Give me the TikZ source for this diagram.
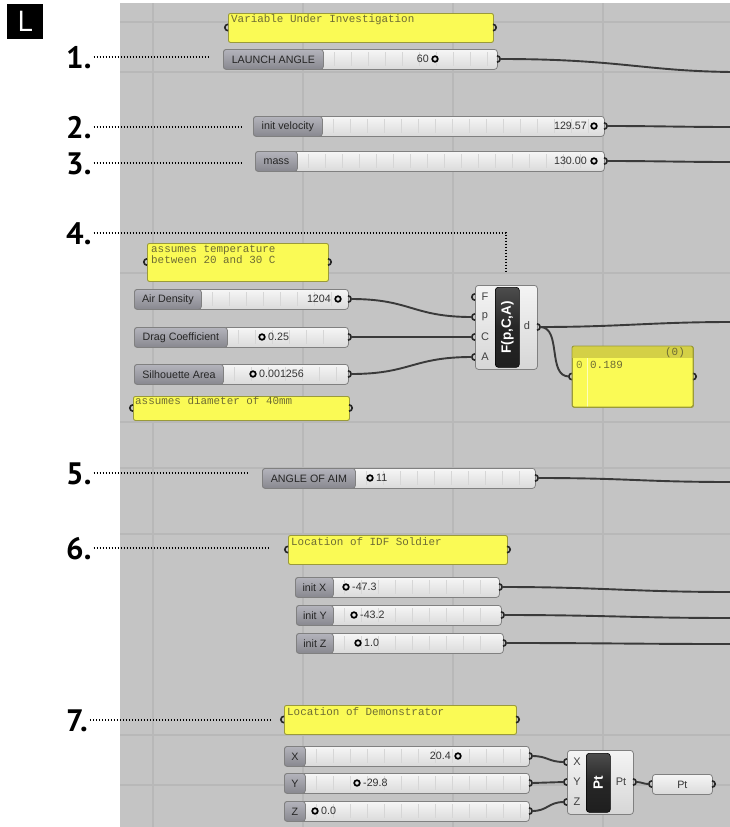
\documentclass[tikz,border=0pt]{standalone}
\usepackage{fontspec}
\setmainfont{Liberation Sans}
\newfontfamily\monof{Liberation Mono}
\newfontfamily\numf{PT Sans}
\newcommand\uifont{\fontsize{10.7}{12}\selectfont}
\definecolor{bgc}{HTML}{C4C4C4}
\definecolor{gridc}{HTML}{B8B8B8}
\definecolor{wirec}{HTML}{3A3A3A}
\definecolor{pany}{HTML}{FAFA55}
\definecolor{panb}{HTML}{9A9A3A}
\definecolor{pant}{HTML}{6E6C34}
\definecolor{hdrc}{HTML}{D4D046}
\definecolor{slbord}{HTML}{808080}
\definecolor{sltop}{HTML}{F6F6F6}
\definecolor{slbot}{HTML}{DADADA}
\definecolor{labtop}{HTML}{B4B4BC}
\definecolor{labbot}{HTML}{88888F}
\definecolor{comptop}{HTML}{F4F4F4}
\definecolor{compbot}{HTML}{D6D6D6}
\newcommand\outport[1]{\draw[port] (#1) ++(0,-3.2) arc[start angle=90,end angle=-90,radius=3.2pt];}
\newcommand\inport[1]{\draw[port] (#1) ++(0,-3.2) arc[start angle=90,end angle=270,radius=3.2pt];}
\newcommand\vring[2]{\draw[ring] (#1,#2) circle[radius=2.8pt];}
% name, x1, y1, x2, y2, label-box right edge, label
\newcommand\gslider[7]{%
  \node[sliderbody, minimum width={#4-#2}, minimum height={#5-#3}] (#1) at (#2,#3) {};
  \foreach \i in {1,...,30}{%
    \pgfmathsetmacro\tx{#6+\i*17-6}%
    \ifdim\tx pt<\dimexpr#4pt-8pt\relax
      \draw[tickl] (\tx,#3+3) -- (\tx,#5-3);
    \fi}
  \node[sliderlab, minimum width={#6-#2}, minimum height={#5-#3}] (#1-lab) at (#2,#3) {#7};
  \coordinate (#1-out) at (#4,{(#3+#5)/2});
  \coordinate (#1-w) at (#4+3,{(#3+#5)/2});
  \outport{#1-out}
}
% name, x1, y1, x2, y2
\newcommand\gpanel[5]{%
  \node[panel, minimum width={#4-#2}, minimum height={#5-#3}] (#1) at (#2,#3) {};
  \coordinate (#1-in) at (#2,{(#3+#5)/2});
  \coordinate (#1-inw) at (#2-3,{(#3+#5)/2});
  \coordinate (#1-out) at (#4,{(#3+#5)/2});
  \inport{#1-in}\outport{#1-out}
}
\begin{document}
\begin{tikzpicture}[x=1pt,y=-1pt,
  wire/.style={draw=wirec, line width=1.9pt},
  port/.style={draw=black!85, line width=1.6pt},
  ring/.style={draw=black, line width=1.7pt},
  sliderbody/.style={draw=slbord, line width=0.8pt, rounded corners=3pt, top color=sltop, bottom color=slbot, inner sep=0pt, anchor=north west},
  sliderlab/.style={draw=slbord, line width=0.8pt, rounded corners=3pt, top color=labtop, bottom color=labbot, inner sep=0pt, anchor=north west, font=\uifont, text=black!85},
  tickl/.style={draw=black!16, line width=0.6pt},
  valtext/.style={font=\uifont, text=black!80, inner sep=0pt},
  panel/.style={draw=panb, line width=0.9pt, fill=pany, rounded corners=2pt, inner sep=0pt, anchor=north west},
  paneltext/.style={font=\monof\fontsize{10.9}{11}\selectfont, text=pant, inner sep=0pt, anchor=base west},
  comp/.style={draw=black!50, line width=0.8pt, rounded corners=3pt, top color=comptop, bottom color=compbot, inner sep=0pt, anchor=north west},
  cbar/.style={draw=black, line width=0.6pt, top color=black!70, bottom color=black!88, middle color=black!85, rounded corners=3pt, inner sep=0pt, anchor=north west},
  complab/.style={font=\fontsize{11}{12}\selectfont, text=black!75, inner sep=0pt},
  bartext/.style={rotate=90, font=\bfseries\fontsize{13.5}{14}\selectfont, text=white, inner sep=0pt},
  numlab/.style={font=\numf\bfseries\fontsize{31}{31}\selectfont, inner sep=0pt, anchor=base west},
  leader/.style={draw=black, line width=1.1pt, dash pattern=on 1.4pt off 1.6pt},
  gridl/.style={draw=gridc, line width=1.3pt}
]
\useasboundingbox (0,0) rectangle (730,827);
\fill[white] (0,0) rectangle (730,827);
\fill[bgc] (120,3) rectangle (730,827);
\foreach \gx in {153,303,453,603} \draw[gridl] (\gx,3) -- (\gx,827);
\foreach \gy in {22,72,273,422,468,534,735,785} \draw[gridl] (120,\gy) -- (730,\gy);

% corner tag
\node[fill=black, minimum width=36, minimum height=35, anchor=north west, inner sep=0pt] (Lbox) at (7,4) {};
\node[text=white, font=\numf\fontsize{29}{29}\selectfont, inner sep=0pt] (Ltxt) at (Lbox.center) {L};

% wire end points at the right edge
\coordinate (e1) at (732,72);
\coordinate (e2) at (732,127);
\coordinate (e3) at (732,162);
\coordinate (e4) at (732,322);
\coordinate (e5) at (732,482);
\coordinate (e6) at (732,592);
\coordinate (e7) at (732,618);
\coordinate (e8) at (732,644);

% ---------- panels ----------
\gpanel{pvar}{228}{13}{493}{42}
\node[paneltext] (tvar) at (231,22) {Variable Under Investigation};
\gpanel{ptemp}{147}{243}{328}{281}
\node[paneltext] (ttemp1) at (151,252) {assumes temperature};
\node[paneltext] (ttemp2) at (151,263) {between 20 and 30 C};
\gpanel{pdiam}{133}{396}{349}{420}
\node[paneltext] (tdiam) at (135,404) {assumes diameter of 40mm};
\gpanel{pidf}{288}{535}{507}{564}
\node[paneltext] (tidf) at (291,545) {Location of IDF Soldier};
\gpanel{pdem}{284}{705}{516}{734}
\node[paneltext] (tdem) at (287,715) {Location of Demonstrator};

% result panel
\gpanel{pres}{572}{346}{693}{407}
\begin{scope}
\clip[rounded corners=2pt] (572,346) rectangle (693,407);
\fill[hdrc] (572,346) rectangle (693,358);
\draw[pany!40!white, line width=0.8pt] (587,358) -- (587,407);
\end{scope}
\draw[panb, line width=0.9pt, rounded corners=2pt] (572,346) rectangle (693,407);
\node[paneltext, anchor=base east] (tres0) at (685,355) {(0)};
\node[paneltext, text=pany!55!black] (tresi) at (576,368) {0};
\node[paneltext] (tresv) at (590,368) {0.189};

% ---------- sliders ----------
\gslider{la}{223}{49}{497}{69}{323}{LAUNCH ANGLE}
\node[valtext, anchor=east] (la-v) at (429,59) {60}; \vring{435}{59}
\gslider{iv}{253}{116}{604}{136}{322}{init velocity}
\node[valtext, anchor=east] (iv-v) at (587,126) {129.57}; \vring{594}{126}
\gslider{ms}{255}{151}{604}{171}{297}{mass}
\node[valtext, anchor=east] (ms-v) at (587,161) {130.00}; \vring{594}{161}
\gslider{ad}{134}{289}{348}{309}{201}{Air Density}
\node[valtext, anchor=east] (ad-v) at (331,299) {1204}; \vring{338}{299}
\gslider{dc}{134}{327}{348}{347}{227}{Drag Coefficient}
\vring{262}{337} \node[valtext, anchor=west] (dc-v) at (268,337) {0.25};
\gslider{sa}{134}{364}{348}{384}{223}{Silhouette Area}
\vring{253}{374} \node[valtext, anchor=west] (sa-v) at (259,374) {0.001256};
\gslider{aim}{262}{468}{535}{488}{355}{ANGLE OF AIM}
\vring{370}{478} \node[valtext, anchor=west] (aim-v) at (376,478) {11};
\gslider{ix}{295}{577}{499}{597}{333}{init X}
\vring{346}{587} \node[valtext, anchor=west] (ix-v) at (352,587) {-47.3};
\gslider{iy}{296}{605}{501}{625}{333}{init Y}
\vring{354}{615} \node[valtext, anchor=west] (iy-v) at (360,615) {-43.2};
\gslider{iz}{296}{633}{503}{653}{333}{init Z}
\vring{358}{643} \node[valtext, anchor=west] (iz-v) at (364,643) {1.0};
\gslider{sx}{284}{746}{529}{766}{305}{X}
\node[valtext, anchor=east] (sx-v) at (451,756) {20.4}; \vring{458}{756}
\gslider{sy}{284}{773}{529}{793}{305}{Y}
\vring{357}{783} \node[valtext, anchor=west] (sy-v) at (363,783) {-29.8};
\gslider{sz}{284}{801}{529}{821}{305}{Z}
\vring{315}{811} \node[valtext, anchor=west] (sz-v) at (321,811) {0.0};

% ---------- F(p,C,A) component ----------
\node[comp, minimum width=62, minimum height=84] (Fc) at (475,285) {};
\node[cbar, minimum width=24, minimum height=80] (Fbar) at (495,287) {};
\node[bartext] (Ft) at (Fbar.center) {F(p,C,A)};
\foreach \nm/\yy in {F/297,p/317,C/337,A/357}{
  \coordinate (F-\nm) at (475,\yy);
  \coordinate (F-\nm-w) at (472,\yy);
  \inport{F-\nm}
  \node[complab] (F-\nm-lab) at (485,\yy) {\nm};
}
\coordinate (F-d) at (537,327);
\coordinate (F-d-w) at (540,327);
\outport{F-d}
\node[complab] (F-d-lab) at (527,326) {d};

% ---------- Pt component ----------
\node[comp, minimum width=66, minimum height=64] (Ptc) at (567,750) {};
\node[cbar, minimum width=24, minimum height=59] (Ptbar) at (586,753) {};
\node[bartext] (Ptt) at (Ptbar.center) {Pt};
\foreach \nm/\yy in {X/762,Y/782,Z/802}{
  \coordinate (Pt-\nm) at (567,\yy);
  \coordinate (Pt-\nm-w) at (564,\yy);
  \inport{Pt-\nm}
  \node[complab] (Pt-\nm-lab) at (577,\yy) {\nm};
}
\coordinate (Pt-o) at (633,782);
\coordinate (Pt-o-w) at (636,782);
\outport{Pt-o}
\node[complab] (Pt-o-lab) at (621,782) {Pt};

% Pt parameter
\node[sliderbody, minimum width=60, minimum height=20, font=\uifont, text=black!80] (ptp) at (652,774) {Pt};
\coordinate (ptp-in) at (652,784);
\coordinate (ptp-inw) at (649,784);
\coordinate (ptp-out) at (712,784);
\inport{ptp-in}\outport{ptp-out}

% ---------- wires ----------
\draw[wire] (la-w) .. controls +(120,0) and +(-90,-1) .. (e1);
\draw[wire] (iv-w) .. controls +(50,0) and +(-50,0) .. (e2);
\draw[wire] (ms-w) .. controls +(50,0) and +(-50,0) .. (e3);
\draw[wire] (ad-w) .. controls +(60,0) and +(-60,0) .. (F-p-w);
\draw[wire] (dc-w) -- (F-C-w);
\draw[wire] (sa-w) .. controls +(60,0) and +(-60,0) .. (F-A-w);
\draw[wire] (F-d-w) .. controls +(80,0) and +(-80,0) .. (e4);
\draw[wire] (F-d-w) .. controls +(22,0) and +(-22,0) .. (pres-inw);
\draw[wire] (aim-w) .. controls +(90,0) and +(-90,0) .. (e5);
\draw[wire] (ix-w) .. controls +(100,0) and +(-100,0) .. (e6);
\draw[wire] (iy-w) .. controls +(100,0) and +(-100,0) .. (e7);
\draw[wire] (iz-w) .. controls +(100,0) and +(-100,0) .. (e8);
\draw[wire] (sx-w) .. controls +(16,0) and +(-16,0) .. (Pt-X-w);
\draw[wire] (sy-w) .. controls +(16,0) and +(-16,0) .. (Pt-Y-w);
\draw[wire] (sz-w) .. controls +(16,0) and +(-16,0) .. (Pt-Z-w);
\draw[wire] (Pt-o-w) .. controls +(6,0) and +(-6,0) .. (ptp-inw);

% ---------- numbered leaders ----------
\node[numlab] (n1) at (66,68) {1.};
\node[numlab] (n2) at (66,138) {2.};
\node[numlab] (n3) at (66,174) {3.};
\node[numlab] (n4) at (66,244) {4.};
\node[numlab] (n5) at (66,484) {5.};
\node[numlab] (n6) at (66,559) {6.};
\node[numlab] (n7) at (66,731) {7.};
\coordinate (d1) at (208,57);
\coordinate (d2) at (243,127);
\coordinate (d3) at (243,163);
\coordinate (d4a) at (506,233);
\coordinate (d4b) at (506,273);
\coordinate (d5) at (248,473);
\coordinate (d6) at (270,548);
\coordinate (d7) at (270,720);
\draw[leader] (n1.east |- d1) ++(2,0) -- (d1);
\draw[leader] (n2.east |- d2) ++(2,0) -- (d2);
\draw[leader] (n3.east |- d3) ++(2,0) -- (d3);
\draw[leader] (n4.east |- d4a) ++(2,0) -- (d4a) -- (d4b);
\draw[leader] (n5.east |- d5) ++(2,0) -- (d5);
\draw[leader] (n6.east |- d6) ++(2,0) -- (d6);
\draw[leader] (n7.east |- d7) ++(2,0) -- (d7);
\end{tikzpicture}
\end{document}
